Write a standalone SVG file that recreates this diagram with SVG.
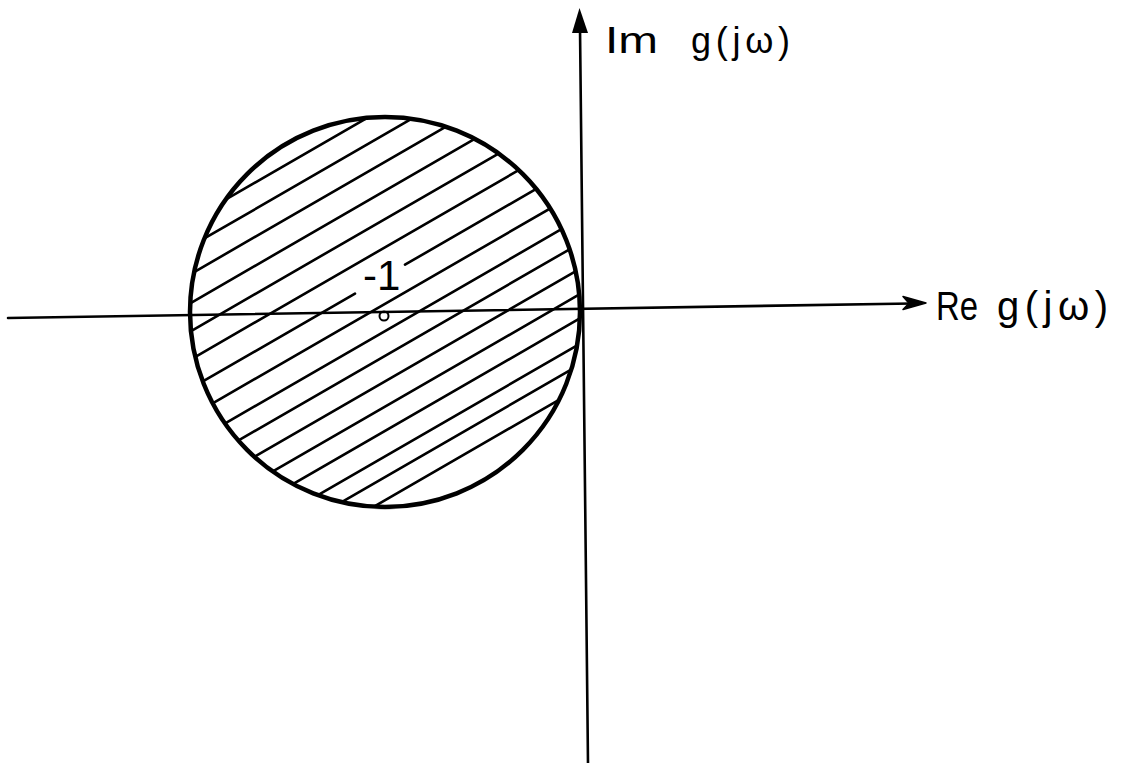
<svg xmlns="http://www.w3.org/2000/svg" width="1121" height="763" viewBox="0 0 1121 763">
<style>
.ax{stroke:#000;stroke-width:2.6;fill:none;stroke-linecap:round}
.hatch line{stroke:#000;stroke-width:2.6;stroke-linecap:round}
.lbl{font-family:"Liberation Sans",Arial,sans-serif;fill:#000}
</style>
<defs>
<clipPath id="cc"><circle cx="385" cy="312" r="195"/></clipPath>
</defs>
<rect width="1121" height="763" fill="#fff"/>
<g id="region">
<g class="hatch" clip-path="url(#cc)">
<line x1="106" y1="268.7" x2="487" y2="48.7"/>
<line x1="117.5" y1="288.6" x2="498.5" y2="68.6"/>
<line x1="129.5" y1="309.4" x2="510.5" y2="89.4"/>
<line x1="142" y1="331.1" x2="523" y2="111.1"/>
<line x1="154.25" y1="352.3" x2="535.25" y2="132.3"/>
<line x1="166.5" y1="373.5" x2="547.5" y2="153.5"/>
<line x1="179" y1="395.2" x2="355" y2="293.6"/>
<line x1="405" y1="264.7" x2="560" y2="175.2"/>
<line x1="191" y1="415.9" x2="572" y2="195.9"/>
<line x1="202.75" y1="436.3" x2="583.75" y2="216.3"/>
<line x1="213.5" y1="454.9" x2="594.5" y2="234.9"/>
<line x1="224.5" y1="474" x2="605.5" y2="254"/>
<line x1="235.5" y1="493" x2="616.5" y2="273"/>
<line x1="246" y1="511.2" x2="627" y2="291.2"/>
<line x1="257" y1="530.3" x2="638" y2="310.3"/>
<line x1="266" y1="545.8" x2="647" y2="325.8"/>
<line x1="276" y1="563.2" x2="657" y2="343.2"/>
</g>
<circle cx="385" cy="312" r="195" fill="none" stroke="#000" stroke-width="4.5"/>
</g>
<g id="axes">
<line class="ax" x1="8" y1="318" x2="912" y2="303.5"/>
<path d="M926,303 L903,296.5 L909,303.2 L903,309.5 Z" fill="#000" stroke="#000" stroke-width="1.5" stroke-linejoin="round"/>
<line class="ax" x1="588" y1="763" x2="580" y2="28"/>
<path d="M579.5,8 L572,33 L588,33 Z" fill="#000"/>
</g>
<g id="point">
<circle cx="384" cy="316" r="4.5" fill="none" stroke="#000" stroke-width="2"/>
<text class="lbl" x="363" y="290" font-size="42">-1</text>
</g>
<g id="labels">
<text class="lbl" x="605" y="53" font-size="36" textLength="53" lengthAdjust="spacingAndGlyphs">Im</text>
<text class="lbl" x="691" y="53" font-size="36" textLength="99" lengthAdjust="spacing">g(jω)</text>
<text class="lbl" x="936" y="320" font-size="40" textLength="42" lengthAdjust="spacingAndGlyphs">Re</text>
<text class="lbl" x="997" y="320" font-size="40" textLength="111" lengthAdjust="spacing">g(jω)</text>
</g>
</svg>
